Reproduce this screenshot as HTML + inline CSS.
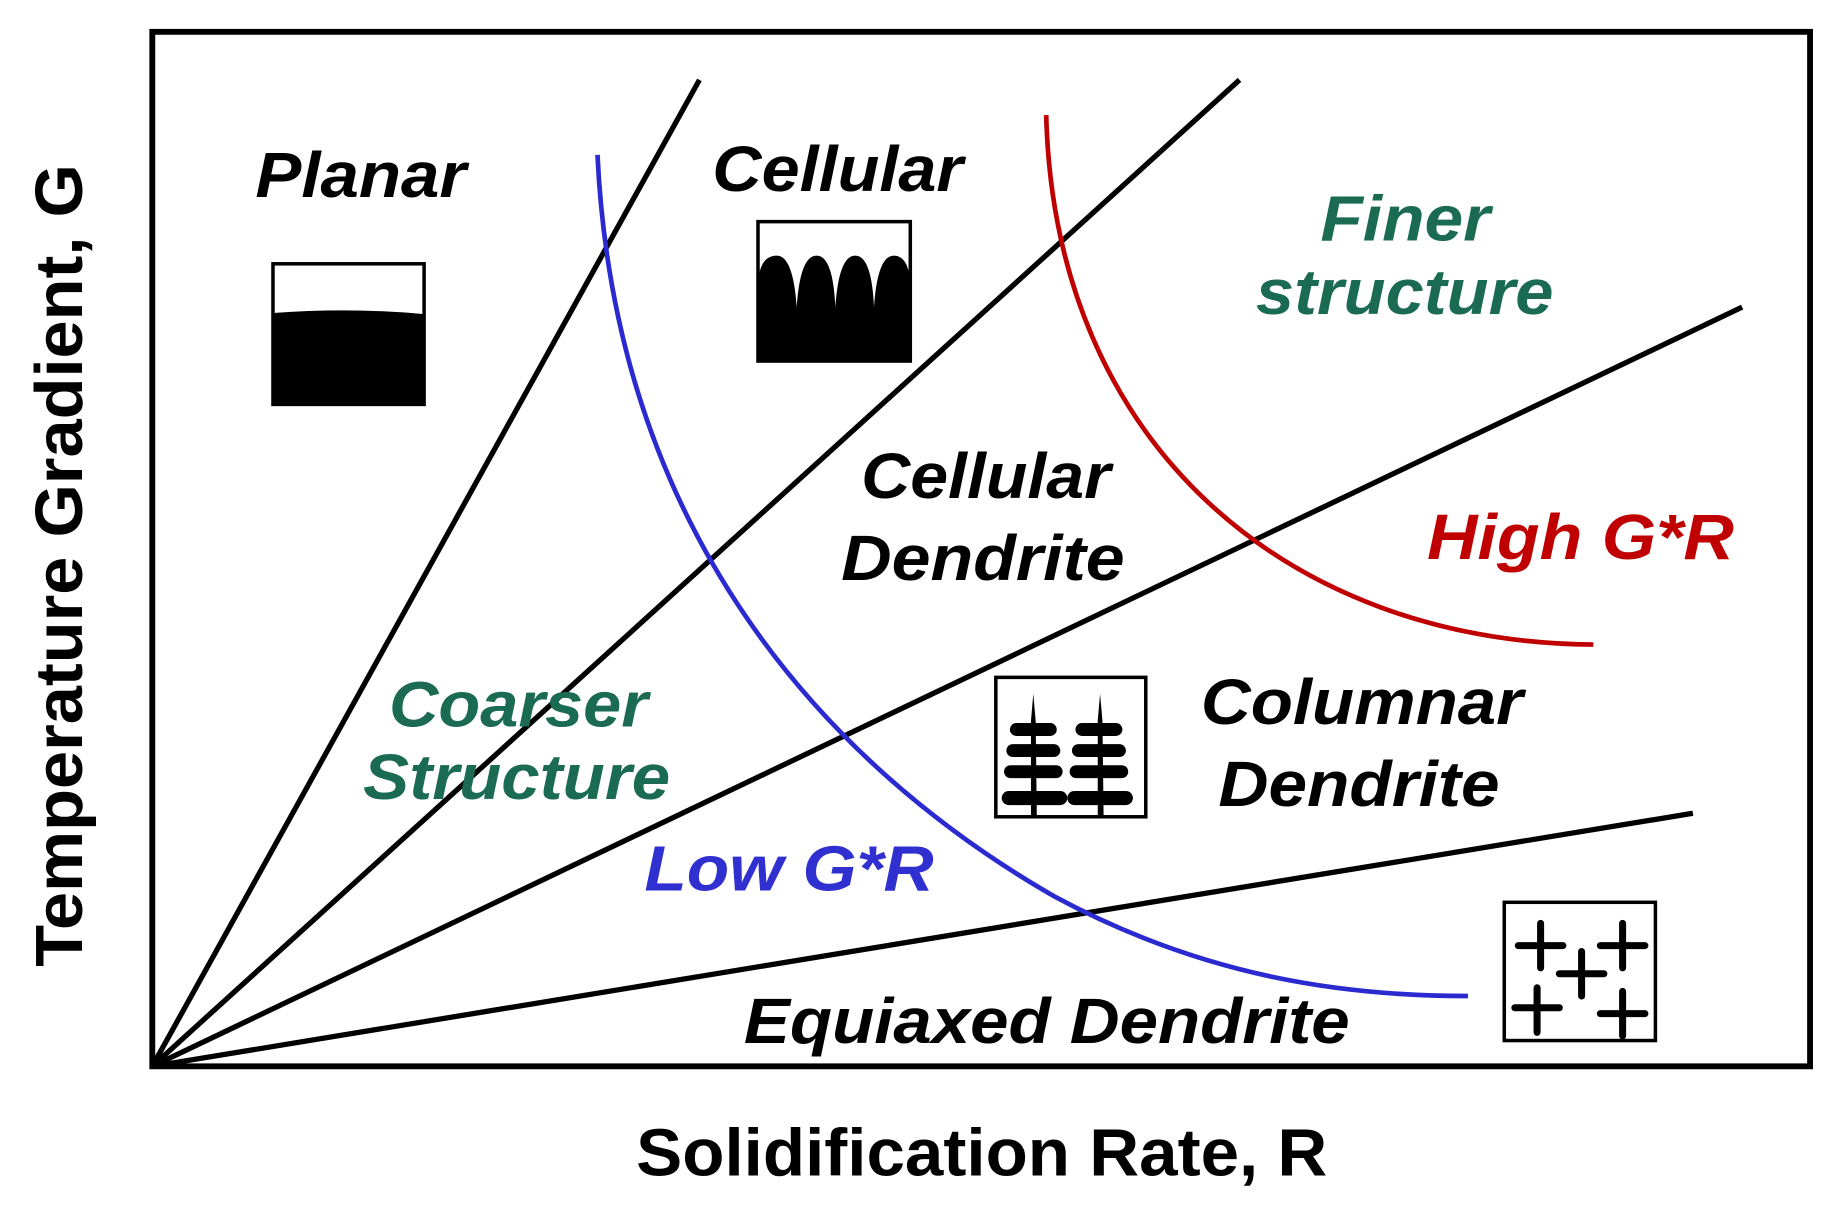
<!DOCTYPE html>
<html><head><style>html,body{margin:0;padding:0;background:#fff}svg{display:block}</style></head><body>
<svg width="1837" height="1220" viewBox="0 0 1568 1041" xmlns="http://www.w3.org/2000/svg" font-family="Liberation Sans, Arial, sans-serif" font-weight="bold">
<rect x="130" y="27" width="1415" height="883" fill="none" stroke="#000" stroke-width="5"/>
<g stroke="#000" stroke-width="4.5" fill="none">
<line x1="130" y1="910" x2="597" y2="68"/>
<line x1="130" y1="910" x2="1058" y2="68"/>
<line x1="130" y1="910" x2="1487" y2="262"/>
<line x1="130" y1="910" x2="1445" y2="694"/>
</g>
<path d="M510,132 C525,450 700,650 900,765 C1030,835 1150,850 1253,850" stroke="#2a2ad0" stroke-width="4" fill="none"/>
<path d="M893,98 C900,380 1100,548 1360,550" stroke="#c00000" stroke-width="4" fill="none"/>
<rect x="233" y="225" width="129" height="120" fill="#fff" stroke="#000" stroke-width="3"/>
<path d="M233,267 Q300,262 362,268 L362,345 L233,345 Z" fill="#000"/>
<rect x="647" y="189" width="130" height="119" fill="#fff" stroke="#000" stroke-width="3"/>
<path d="M647,308 L647,240 Q649,218 663,218 Q677,218 680,262 Q683,218 697,218 Q711,218 713,262 Q716,218 730,218 Q744,218 746,262 Q749,218 763,218 Q775,218 777,240 L777,308 Z" fill="#000"/>
<rect x="850" y="578" width="128" height="119" fill="#fff" stroke="#000" stroke-width="3"/>
<g fill="#000">
<path d="M880,697 L880,615 L882,592 L884,615 L885,697Z"/>
<path d="M937,697 L937,615 L939,592 L941,615 L942,697Z"/>
<rect x="862" y="617" width="40" height="11" rx="5.5"/><rect x="859" y="635" width="46" height="11" rx="5.5"/><rect x="857" y="653" width="50" height="11" rx="5.5"/><rect x="855" y="675" width="56" height="12" rx="6"/>
<rect x="918" y="617" width="40" height="11" rx="5.5"/><rect x="915" y="635" width="46" height="11" rx="5.5"/><rect x="913" y="653" width="50" height="11" rx="5.5"/><rect x="911" y="675" width="56" height="12" rx="6"/>
</g>
<rect x="1284" y="770" width="129" height="118" fill="#fff" stroke="#000" stroke-width="3"/>
<g stroke="#000" stroke-width="6" stroke-linecap="round">
<path d="M1315,788v38M1296,807h38"/><path d="M1385,788v38M1366,807h38"/>
<path d="M1350,812v38M1331,831h38"/><path d="M1312,843v38M1293,860h38"/><path d="M1385,846v38M1366,865h38"/>
</g>
<g font-style="italic" font-size="55" fill="#000" lengthAdjust="spacingAndGlyphs">
<text x="218" y="168" textLength="180" lengthAdjust="spacingAndGlyphs">Planar</text>
<text x="608" y="163" textLength="214" lengthAdjust="spacingAndGlyphs">Cellular</text>
<text x="735" y="425" textLength="213" lengthAdjust="spacingAndGlyphs">Cellular</text>
<text x="718" y="495" textLength="242" lengthAdjust="spacingAndGlyphs">Dendrite</text>
<text x="1025" y="618" textLength="275" lengthAdjust="spacingAndGlyphs">Columnar</text>
<text x="1040" y="688" textLength="240" lengthAdjust="spacingAndGlyphs">Dendrite</text>
<text x="635" y="890" textLength="517" lengthAdjust="spacingAndGlyphs">Equiaxed Dendrite</text>
</g>
<g font-style="italic" font-size="55" fill="#1a6b52">
<text x="1127" y="205" textLength="145" lengthAdjust="spacingAndGlyphs">Finer</text>
<text x="1072" y="268" textLength="254" lengthAdjust="spacingAndGlyphs">structure</text>
<text x="332" y="620" textLength="221" lengthAdjust="spacingAndGlyphs">Coarser</text>
<text x="310" y="682" textLength="262" lengthAdjust="spacingAndGlyphs">Structure</text>
</g>
<text x="1218" y="477" font-style="italic" font-size="55" fill="#c00000" textLength="262" lengthAdjust="spacingAndGlyphs">High G*R</text>
<text x="550" y="760" font-style="italic" font-size="55" fill="#3030d0" textLength="247" lengthAdjust="spacingAndGlyphs">Low G*R</text>
<text x="543" y="1003" font-size="57" fill="#000" textLength="590" lengthAdjust="spacingAndGlyphs">Solidification Rate, R</text>
<text transform="translate(70,825) rotate(-90)" font-size="57" fill="#000" textLength="685" lengthAdjust="spacingAndGlyphs">Temperature Gradient, G</text>
</svg>
</body></html>
